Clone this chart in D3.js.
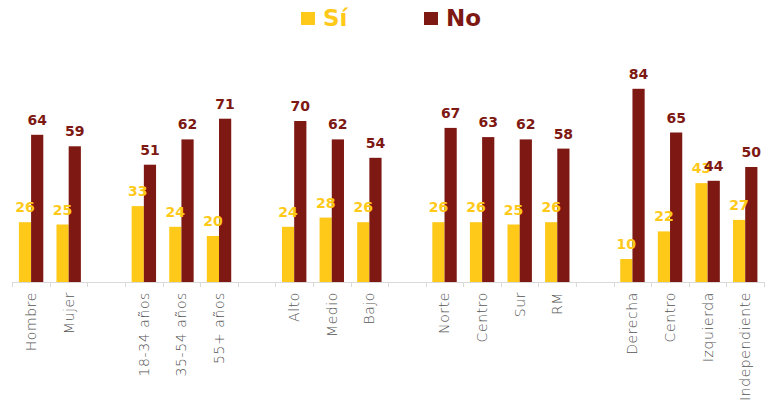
<!DOCTYPE html>
<html><head><meta charset="utf-8">
<script src="https://cdn.jsdelivr.net/npm/d3@7"></script>
<style>body{margin:0;background:#fff}svg{display:block}</style>
</head><body><svg id="c" width="775" height="405"></svg>
<script>
const categories = ["Hombre","Mujer","","18-34 años","35-54 años","55+ años","","Alto","Medio","Bajo","","Norte","Centro","Sur","RM","","Derecha","Centro","Izquierda","Independiente"];
const siValues = [26,25,null,33,24,20,null,24,28,26,null,26,26,25,26,null,10,22,43,27];
const noValues = [64,59,null,51,62,71,null,70,62,54,null,67,63,62,58,null,84,65,44,50];
const seriesNames = ["Sí","No"];
const colors = {"Sí":"#FFC91A","No":"#7D1812"};

const svg = d3.select("#c");
const slots = categories.map((c,i)=>i);
const x = d3.scaleBand().domain(slots).range([12.3,764]).padding(0);
const x1 = d3.scaleBand().domain(seriesNames).range([0,x.bandwidth()]).paddingInner(0).paddingOuter(0.54);
const y = d3.scaleLinear().domain([0,100]).range([282,52]);

const rows = slots.map(i=>({i, cat:categories[i], "Sí":siValues[i], "No":noValues[i]}));

// axis line + ticks at slot boundaries
const bounds = slots.map(i=>x(i)).concat([x.range()[1]]);
svg.append("line").attr("x1",x.range()[0]).attr("x2",x.range()[1]).attr("y1",y(0)+0.5).attr("y2",y(0)+0.5)
  .attr("stroke","#d9d9d9").attr("stroke-width",1);
svg.selectAll(".tk").data(bounds).join("line")
  .attr("x1",d=>Math.round(d)+0.5).attr("x2",d=>Math.round(d)+0.5)
  .attr("y1",y(0)).attr("y2",y(0)+5).attr("stroke","#d9d9d9");

// bars
const g = svg.selectAll(".grp").data(rows.filter(r=>r["Sí"]!=null)).join("g")
  .attr("transform",d=>`translate(${x(d.i)},0)`);
seriesNames.forEach(s=>{
  g.append("rect").attr("x",x1(s)).attr("width",x1.bandwidth())
    .attr("y",d=>y(d[s])).attr("height",d=>y(0)-y(d[s])).attr("fill",colors[s]);
});
seriesNames.forEach(s=>{
  g.append("text").attr("x",x1(s)+x1.bandwidth()/2).attr("y",d=>y(d[s])-10)
    .attr("text-anchor","middle").attr("font-family","DejaVu Sans").attr("font-weight","bold")
    .attr("font-size",14).attr("fill",colors[s]).text(d=>d[s]);
});

// category labels
svg.selectAll(".cl").data(rows.filter(r=>r.cat)).join("text")
  .attr("transform",d=>`translate(${x(d.i)+x.bandwidth()/2},292) rotate(-90)`)
  .attr("text-anchor","end").attr("dy","0.35em")
  .attr("font-family","DejaVu Sans").attr("font-weight",200).attr("font-size",14)
  .attr("letter-spacing","0.6px")
  .attr("fill","#555").text(d=>d.cat);

// legend
const leg = [{n:"Sí",sx:301,tx:323},{n:"No",sx:424,tx:446}];
const lg = svg.selectAll(".lg").data(leg).join("g");
lg.append("rect").attr("x",d=>d.sx).attr("y",12).attr("width",14).attr("height",13).attr("fill",d=>colors[d.n]);
lg.append("text").attr("x",d=>d.tx).attr("y",26).attr("font-family","DejaVu Sans").attr("font-weight","bold")
  .attr("font-size",23).attr("fill",d=>colors[d.n]).text(d=>d.n);
</script></body></html>
